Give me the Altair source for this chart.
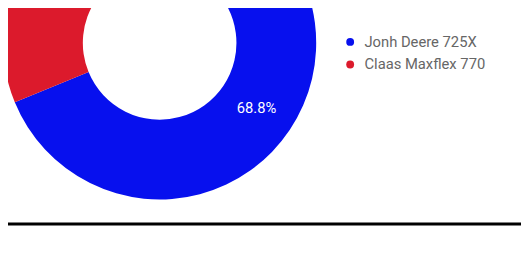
import altair as alt
import pandas as pd

categories = ["Jonh Deere 725X", "Claas Maxflex 770"]
values = [68.8, 31.2]
labels = ["68.8%", ""]
colors = ["#0710ee", "#dc1a2c"]

df = pd.DataFrame({"name": categories, "value": values, "label": labels, "idx": [0, 1]})

W, H = 521, 247
CX, CY = 154, 33.5

base = alt.Chart(df)

arc = base.mark_arc(innerRadius=78, outerRadius=159).encode(
    theta=alt.Theta("value:Q", stack=True),
    order=alt.Order("idx:Q"),
    color=alt.Color(
        "name:N",
        scale=alt.Scale(domain=categories, range=colors),
        legend=alt.Legend(
            title=None,
            orient="none",
            legendX=340,
            legendY=25,
            symbolType="circle",
            symbolSize=64,
            symbolStrokeWidth=0,
            labelFont="Roboto",
            labelFontSize=15,
            labelColor="#666666",
            labelOffset=7,
            rowPadding=7,
            padding=0,
        ),
    ),
    x=alt.value(CX),
    y=alt.value(CY),
)

text = base.mark_text(radius=118.5, font="Roboto", fontSize=15, color="white").encode(
    theta=alt.Theta("value:Q", stack=True),
    order=alt.Order("idx:Q"),
    text="label:N",
    x=alt.value(CX),
    y=alt.value(CY),
)

line = alt.Chart(pd.DataFrame({"a": [0]})).mark_rule(color="black", strokeWidth=3).encode(
    x=alt.value(0), x2=alt.value(W), y=alt.value(217.5)
)

chart = alt.layer(arc, text, line).properties(
    width=W, height=H, autosize=alt.AutoSizeParams(type="none"), padding=0
).configure_view(strokeWidth=0)

chart.save("out.html", embed_options={"renderer": "svg", "actions": False})
